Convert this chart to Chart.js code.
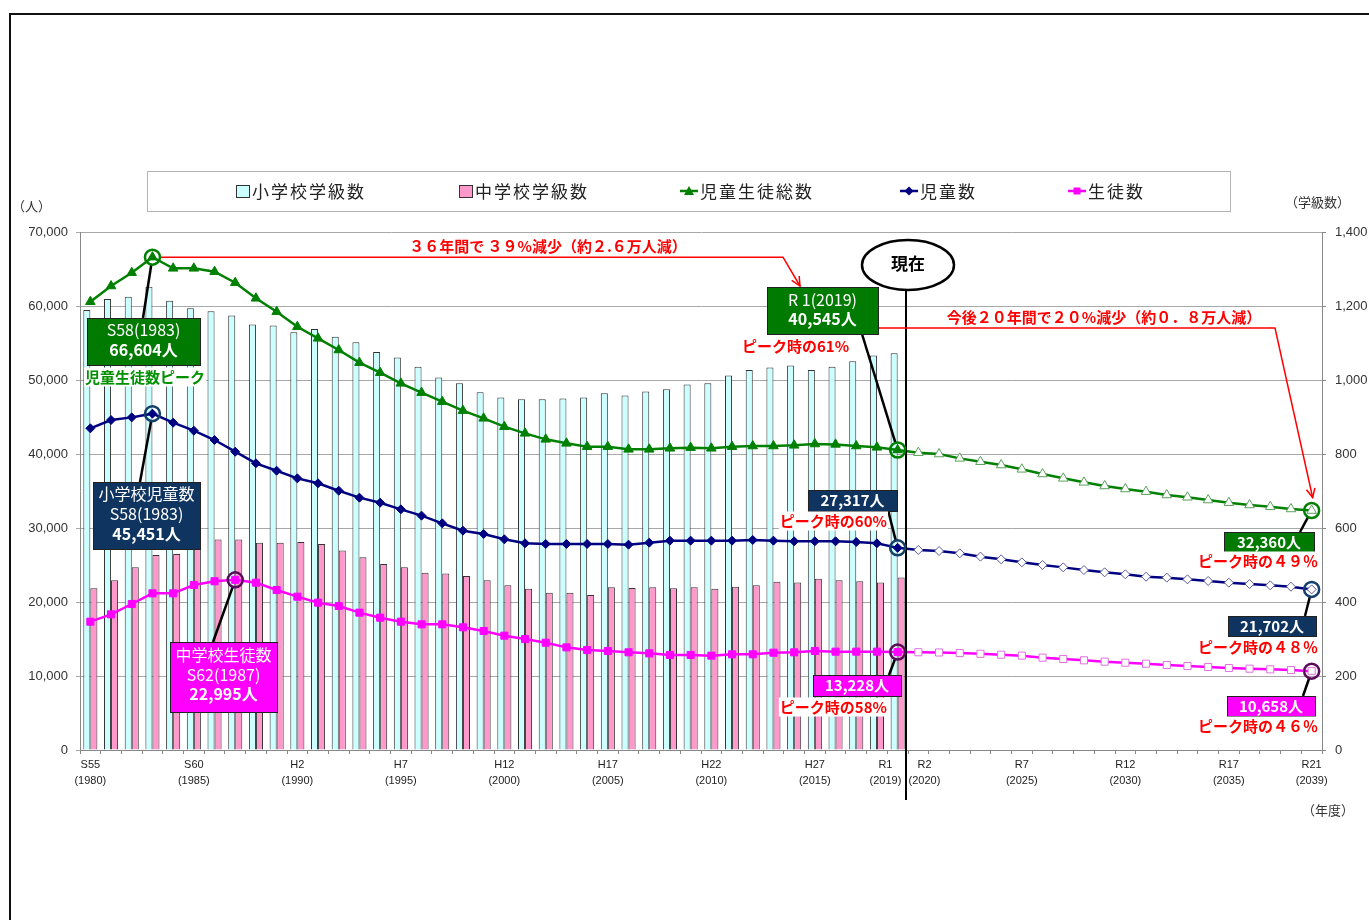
<!DOCTYPE html>
<html lang="ja">
<head>
<meta charset="utf-8">
<title>児童生徒数・学級数の推移</title>
<script src="https://cdn.jsdelivr.net/npm/chart.js@4/dist/chart.umd.min.js"></script>
<style>
body{margin:0;background:#fff;overflow:hidden}
.frame{position:absolute;left:9px;top:13px;width:1362px;height:910px;border-left:2px solid #111;border-top:2px solid #111}
.wrap{position:absolute;left:0;top:0;width:1369px;height:920px}
</style>
</head>
<body>
<div class="frame"></div>
<div class="wrap"><canvas id="myChart"></canvas></div>
<script>
// 年度 (S55=1980 ... R21=2039)
const years = [1980,1981,1982,1983,1984,1985,1986,1987,1988,1989,
               1990,1991,1992,1993,1994,1995,1996,1997,1998,1999,
               2000,2001,2002,2003,2004,2005,2006,2007,2008,2009,
               2010,2011,2012,2013,2014,2015,2016,2017,2018,2019,
               2020,2021,2022,2023,2024,2025,2026,2027,2028,2029,
               2030,2031,2032,2033,2034,2035,2036,2037,2038,2039];

const tickYears = [1980,1985,1990,1995,2000,2005,2010,2015,2019,2020,2025,2030,2035,2039];
const tickEras  = ['S55','S60','H2','H7','H12','H17','H22','H27','R1','R2','R7','R12','R17','R21'];

// 学級数 (右軸) 1980-2019, 以降は無し
const elemClasses = [1189,1219,1225,1252,1214,1194,1186,1174,1150,1147,
                     1129,1138,1117,1102,1076,1061,1036,1007,991,967,
                     953,948,948,950,953,964,958,969,975,988,
                     991,1012,1027,1034,1039,1027,1036,1051,1066,1072,
                     null,null,null,null,null,null,null,null,null,null,
                     null,null,null,null,null,null,null,null,null,null];
const juniorClasses = [437,459,494,527,530,549,569,569,560,560,
                       562,557,539,521,503,494,479,477,470,459,
                       445,436,425,425,419,440,438,440,437,440,
                       436,441,445,455,453,463,459,456,453,466,
                       null,null,null,null,null,null,null,null,null,null,
                       null,null,null,null,null,null,null,null,null,null];

// 人数 (左軸)
const totalStudents = [60580,62700,64500,66604,65090,65090,64640,63150,61040,59230,
                       57200,55630,54050,52340,50990,49550,48290,47070,45860,44820,
                       43690,42790,41980,41440,40990,40990,40630,40630,40770,40860,
                       40770,40990,41080,41080,41170,41350,41300,41080,40900,40545,
                       40180,40000,39410,38960,38510,37930,37300,36710,36170,35680,
                       35270,34910,34460,34150,33780,33420,33110,32880,32570,32360];
const elemStudents = [43470,44590,44950,45451,44230,43150,41890,40310,38740,37740,
                      36710,36040,35040,34100,33420,32520,31670,30630,29640,29190,
                      28470,27930,27840,27840,27840,27840,27750,28020,28290,28290,
                      28290,28290,28380,28290,28200,28200,28200,28110,27930,27317,
                      27030,26890,26580,26130,25770,25360,25000,24680,24320,24010,
                      23740,23420,23290,23060,22840,22610,22430,22250,22070,21702];
const juniorStudents = [17340,18330,19730,21170,21170,22300,22800,22995,22610,21620,
                        20720,19910,19460,18560,17880,17340,16980,16980,16580,16080,
                        15450,14990,14500,13870,13510,13380,13200,13060,12840,12840,
                        12750,12930,12930,13150,13200,13380,13290,13290,13290,13228,
                        13210,13180,13100,13000,12880,12750,12480,12300,12120,11940,
                        11800,11660,11490,11350,11220,11080,10990,10900,10810,10658];

const nowYear = 2019;
const JP = '"Noto Sans CJK JP", sans-serif';

function fut(i, a, b){ return years[i] > nowYear ? b : a; }
function toFull(s){ return s.replace(/[0-9]/g, c => String.fromCharCode(c.charCodeAt(0) + 0xFEE0)); }
function fmt(v){ return v.toLocaleString('en-US') + '人'; }

/* annotation drawing */
function pt(chart, ds, year){
    let el = chart.getDatasetMeta(ds).data[years.indexOf(year)];
    return {x: el.x, y: el.y};
}
function lead(ctx, x1, y1, p){
    let dx = p.x - x1, dy = p.y - y1, d = Math.hypot(dx, dy);
    ctx.save();
    ctx.strokeStyle = '#000'; ctx.lineWidth = 2.5;
    ctx.beginPath(); ctx.moveTo(x1, y1); ctx.lineTo(p.x - dx / d * 7, p.y - dy / d * 7); ctx.stroke();
    ctx.restore();
}
function ring(ctx, p, color){
    ctx.save();
    ctx.strokeStyle = color; ctx.lineWidth = 2.5;
    ctx.beginPath(); ctx.arc(p.x, p.y, 7.5, 0, Math.PI * 2); ctx.stroke();
    ctx.restore();
}
function box(ctx, x, y, w, h, fill, lines){
    ctx.save();
    ctx.fillStyle = fill; ctx.fillRect(x, y, w, h);
    ctx.strokeStyle = '#222'; ctx.lineWidth = 1; ctx.strokeRect(x + 0.5, y + 0.5, w, h);
    ctx.fillStyle = '#fff'; ctx.textAlign = 'center'; ctx.textBaseline = 'middle';
    lines.forEach(l => {
        ctx.font = (l.bold ? 'bold ' : '') + l.size + 'px ' + JP;
        ctx.fillText(l.text, x + w / 2, l.y);
    });
    ctx.restore();
}
function label(ctx, text, x, y, align, color, size){
    ctx.save();
    ctx.font = 'bold ' + size + 'px ' + JP;
    let w = ctx.measureText(text).width;
    let left = align === 'right' ? x - w : (align === 'center' ? x - w / 2 : x);
    ctx.fillStyle = '#fff'; ctx.fillRect(left - 1, y - size / 2 - 2, w + 2, size + 4);
    ctx.fillStyle = color; ctx.textAlign = 'left'; ctx.textBaseline = 'middle';
    ctx.fillText(text, left, y);
    ctx.restore();
}
function arrowPath(ctx, pts){
    ctx.save();
    ctx.strokeStyle = '#ff0000'; ctx.lineWidth = 1.5;
    ctx.beginPath(); ctx.moveTo(pts[0][0], pts[0][1]);
    for (let i = 1; i < pts.length; i++) ctx.lineTo(pts[i][0], pts[i][1]);
    ctx.stroke();
    let a = pts[pts.length - 2], b = pts[pts.length - 1];
    let ang = Math.atan2(b[1] - a[1], b[0] - a[0]);
    ctx.beginPath();
    ctx.moveTo(b[0] - 10 * Math.cos(ang - 0.45), b[1] - 10 * Math.sin(ang - 0.45));
    ctx.lineTo(b[0], b[1]);
    ctx.lineTo(b[0] - 10 * Math.cos(ang + 0.45), b[1] - 10 * Math.sin(ang + 0.45));
    ctx.stroke();
    ctx.restore();
}
function marker(ctx, style, x, y, color){
    ctx.save();
    ctx.fillStyle = color; ctx.strokeStyle = color; ctx.lineWidth = 2.5;
    ctx.beginPath(); ctx.moveTo(x - 9, y); ctx.lineTo(x + 9, y); ctx.stroke();
    ctx.beginPath();
    if (style === 'triangle') { ctx.moveTo(x, y - 5); ctx.lineTo(x + 5, y + 4); ctx.lineTo(x - 5, y + 4); }
    else if (style === 'rectRot') { ctx.moveTo(x, y - 4.5); ctx.lineTo(x + 4.5, y); ctx.lineTo(x, y + 4.5); ctx.lineTo(x - 4.5, y); }
    else { ctx.rect(x - 3.5, y - 3.5, 7, 7); }
    ctx.closePath(); ctx.fill();
    ctx.restore();
}

const annotate = {
    id: 'annotate',
    afterDraw(chart){
        const ctx = chart.ctx;

        // legend
        ctx.save();
        ctx.fillStyle = '#fff'; ctx.fillRect(147, 171, 1083, 40);
        ctx.strokeStyle = '#b4b4b4'; ctx.lineWidth = 1; ctx.strokeRect(147.5, 171.5, 1083, 40);
        ctx.font = '17px ' + JP; ctx.fillStyle = '#222'; ctx.textBaseline = 'middle';
        ctx.letterSpacing = '2px';
        ctx.fillStyle = '#ccffff'; ctx.fillRect(236, 185, 13, 12);
        ctx.strokeStyle = '#333'; ctx.strokeRect(236.5, 185.5, 13, 12);
        ctx.fillStyle = '#ff99cc'; ctx.fillRect(459, 185, 13, 12);
        ctx.strokeRect(459.5, 185.5, 13, 12);
        ctx.fillStyle = '#222';
        ctx.fillText('小学校学級数', 252, 192);
        ctx.fillText('中学校学級数', 475, 192);
        ctx.fillText('児童生徒総数', 700, 192);
        ctx.fillText('児童数', 920, 192);
        ctx.fillText('生徒数', 1088, 192);
        ctx.restore();
        marker(ctx, 'triangle', 689, 191, '#008000');
        marker(ctx, 'rectRot', 909, 191, '#000080');
        marker(ctx, 'rect', 1077, 191, '#ff00ff');

        // axis titles
        ctx.save();
        ctx.font = '13px ' + JP; ctx.fillStyle = '#333'; ctx.textBaseline = 'middle';
        ctx.textAlign = 'left'; ctx.fillText('（人）', 12, 206);
        ctx.textAlign = 'right'; ctx.fillText('（学級数）', 1350, 202);
        ctx.fillText('（年度）', 1354, 810);
        ctx.restore();

        const peakT = pt(chart, 2, 1983), peakE = pt(chart, 3, 1983), peakJ = pt(chart, 4, 1987);
        const nowT = pt(chart, 2, 2019), nowE = pt(chart, 3, 2019), nowJ = pt(chart, 4, 2019);
        const endT = pt(chart, 2, 2039), endE = pt(chart, 3, 2039), endJ = pt(chart, 4, 2039);
        const iPk = years.indexOf(1983), iPkJ = years.indexOf(1987), iNow = years.indexOf(2019), iEnd = years.indexOf(2039);

        // 現在 line
        const xs = chart.scales.x;
        const nowX = (xs.getPixelForValue(iNow) + xs.getPixelForValue(iNow + 1)) / 2 - 2;
        ctx.save();
        ctx.strokeStyle = '#000'; ctx.lineWidth = 2;
        ctx.beginPath(); ctx.moveTo(nowX, 290); ctx.lineTo(nowX, 800); ctx.stroke();
        ctx.fillStyle = '#fff'; ctx.lineWidth = 2.5;
        ctx.beginPath(); ctx.ellipse(nowX + 2, 265, 46, 25, 0, 0, Math.PI * 2); ctx.fill(); ctx.stroke();
        ctx.fillStyle = '#000'; ctx.font = 'bold 17px ' + JP; ctx.textAlign = 'center'; ctx.textBaseline = 'middle';
        ctx.fillText('現在', nowX + 2, 264);
        ctx.restore();

        // red arrows
        arrowPath(ctx, [[peakT.x + 8, peakT.y], [783, peakT.y], [800, 286]]);
        label(ctx, '３６年間で ３９%減少（約２.６万人減）', 548, 246, 'center', '#ff0000', 15);
        arrowPath(ctx, [[878, 328], [1275, 328], [endT.x + 1, endT.y - 13]]);
        label(ctx, '今後２０年間で２０%減少（約０．８万人減）', 1104, 317, 'center', '#ff0000', 15);

        // leader lines
        lead(ctx, 143, 318, peakT);
        lead(ctx, 140, 482, peakE);
        lead(ctx, 213, 642, peakJ);
        lead(ctx, 862, 334, nowT);
        lead(ctx, 888, 510, nowE);
        lead(ctx, 889, 675, nowJ);
        lead(ctx, 1300, 532, endT);
        lead(ctx, 1305, 616, endE);
        lead(ctx, 1303, 696, endJ);

        // boxes
        box(ctx, 87, 318, 113, 47, '#007a00', [
            {text: 'S58(1983)', size: 16, y: 330},
            {text: fmt(totalStudents[iPk]), size: 16, bold: true, y: 350}]);
        label(ctx, '児童生徒数ピーク', 85, 377, 'left', '#009000', 15);
        box(ctx, 93, 482, 107, 67, '#0f3460', [
            {text: '小学校児童数', size: 16, y: 494},
            {text: 'S58(1983)', size: 16, y: 514},
            {text: fmt(elemStudents[iPk]), size: 16, bold: true, y: 534}]);
        box(ctx, 170, 642, 107, 70, '#ff00ff', [
            {text: '中学校生徒数', size: 16, y: 655},
            {text: 'S62(1987)', size: 16, y: 675},
            {text: fmt(juniorStudents[iPkJ]), size: 16, bold: true, y: 694}]);
        box(ctx, 767, 287, 111, 47, '#007a00', [
            {text: 'R 1(2019)', size: 16, y: 300},
            {text: fmt(totalStudents[iNow]), size: 16, bold: true, y: 319}]);

        const pctNow = (s, pk) => 'ピーク時の' + Math.round(s[iNow] / s[pk] * 100) + '%';
        const pctEnd = (s, pk) => 'ピーク時の' + toFull(String(Math.round(s[iEnd] / s[pk] * 100))) + '％';
        label(ctx, pctNow(totalStudents, iPk), 742, 346, 'left', '#ff0000', 15);

        box(ctx, 808, 490, 89, 21, '#0f3460', [{text: fmt(elemStudents[iNow]), size: 15, bold: true, y: 500}]);
        label(ctx, pctNow(elemStudents, iPk), 887, 521, 'right', '#ff0000', 15);
        box(ctx, 813, 675, 88, 21, '#ff00ff', [{text: fmt(juniorStudents[iNow]), size: 15, bold: true, y: 685}]);
        label(ctx, pctNow(juniorStudents, iPkJ), 887, 707, 'right', '#ff0000', 15);

        box(ctx, 1224, 532, 90, 20, '#007a00', [{text: fmt(totalStudents[iEnd]), size: 15, bold: true, y: 542}]);
        label(ctx, pctEnd(totalStudents, iPk), 1318, 561, 'right', '#ff0000', 15);
        box(ctx, 1228, 616, 88, 20, '#0f3460', [{text: fmt(elemStudents[iEnd]), size: 15, bold: true, y: 626}]);
        label(ctx, pctEnd(elemStudents, iPk), 1318, 647, 'right', '#ff0000', 15);
        box(ctx, 1227, 696, 88, 20, '#ff00ff', [{text: fmt(juniorStudents[iEnd]), size: 15, bold: true, y: 706}]);
        label(ctx, pctEnd(juniorStudents, iPkJ), 1318, 726, 'right', '#ff0000', 15);

        // highlight rings
        [peakT, nowT, endT].forEach(p => ring(ctx, p, '#008000'));
        [peakE, nowE, endE].forEach(p => ring(ctx, p, '#12406a'));
        [peakJ, nowJ, endJ].forEach(p => ring(ctx, p, '#5a0a5a'));
    }
};

var ctx = document.getElementById("myChart").getContext("2d");
var myChart = new Chart(ctx, {
    type: 'bar',
    data: {
        labels: years,
        datasets: [
            {
                label: '小学校学級数', data: elemClasses, yAxisID: 'y1', order: 2,
                backgroundColor: '#ccffff', borderColor: '#333', borderWidth: 1,
                categoryPercentage: 0.68, barPercentage: 1
            },
            {
                label: '中学校学級数', data: juniorClasses, yAxisID: 'y1', order: 2,
                backgroundColor: '#ff99cc', borderColor: '#333', borderWidth: 1,
                categoryPercentage: 0.68, barPercentage: 1
            },
            {
                type: 'line', label: '児童生徒総数', data: totalStudents, yAxisID: 'y', order: 0,
                borderColor: '#008000', borderWidth: 2.5, tension: 0,
                pointStyle: 'triangle', pointRadius: 5.5, pointBorderWidth: 1,
                pointBackgroundColor: years.map((y, i) => fut(i, '#008000', '#ffffff')),
                pointBorderColor: years.map((y, i) => fut(i, '#008000', '#5a9f5a'))
            },
            {
                type: 'line', label: '児童数', data: elemStudents, yAxisID: 'y', order: 0,
                borderColor: '#000080', borderWidth: 2.5, tension: 0,
                pointStyle: 'rectRot', pointRadius: 4.5, pointBorderWidth: 1,
                pointBackgroundColor: years.map((y, i) => fut(i, '#000080', '#ffffff')),
                pointBorderColor: years.map((y, i) => fut(i, '#000080', '#5a5aa0'))
            },
            {
                type: 'line', label: '生徒数', data: juniorStudents, yAxisID: 'y', order: 0,
                borderColor: '#ff00ff', borderWidth: 2.5, tension: 0,
                pointStyle: 'rect', pointRadius: 5, pointBorderWidth: 1,
                pointBackgroundColor: years.map((y, i) => fut(i, '#ff00ff', '#ffffff')),
                pointBorderColor: years.map((y, i) => fut(i, '#ff00ff', '#e070e0'))
            }
        ]
    },
    options: {
        responsive: true,
        maintainAspectRatio: false,
        animation: false,
        layout: {padding: {left: 10, right: 0, top: 232, bottom: 120}},
        plugins: {legend: {display: false}, tooltip: {enabled: false}},
        scales: {
            x: {
                grid: {drawOnChartArea: false, tickLength: 4, color: '#888'},
                border: {color: '#888'},
                afterFit(scale){ scale.height = 50; },
                ticks: {
                    autoSkip: false, maxRotation: 0, minRotation: 0, padding: 3,
                    color: '#222', font: {family: '"Liberation Sans", Arial, sans-serif', size: 11, lineHeight: 1.45},
                    callback(val, idx){
                        let k = tickYears.indexOf(years[idx]);
                        if (k < 0) return '';
                        let a = tickEras[k], b = '(' + tickYears[k] + ')';
                        if (a === 'R1') return [a + '        ', b + '        '];
                        if (a === 'R2') return ['    ' + a, '    ' + b];
                        return [a, b];
                    }
                }
            },
            y: {
                position: 'left', min: 0, max: 70000,
                afterFit(scale){ scale.width = 70; },
                grid: {color: '#a8a8a8', tickLength: 4},
                border: {color: '#888'},
                ticks: {
                    stepSize: 10000, padding: 8, color: '#333',
                    font: {family: '"Liberation Sans", Arial, sans-serif', size: 13},
                    callback: v => v.toLocaleString('en-US')
                }
            },
            y1: {
                position: 'right', min: 0, max: 1400,
                afterFit(scale){ scale.width = 47; },
                grid: {drawOnChartArea: false, tickLength: 4, color: '#888'},
                border: {color: '#888'},
                ticks: {
                    stepSize: 200, padding: 9, color: '#333',
                    font: {family: '"Liberation Sans", Arial, sans-serif', size: 13},
                    callback: v => v.toLocaleString('en-US')
                }
            }
        }
    },
    plugins: [annotate]
});
</script>
</body>
</html>
